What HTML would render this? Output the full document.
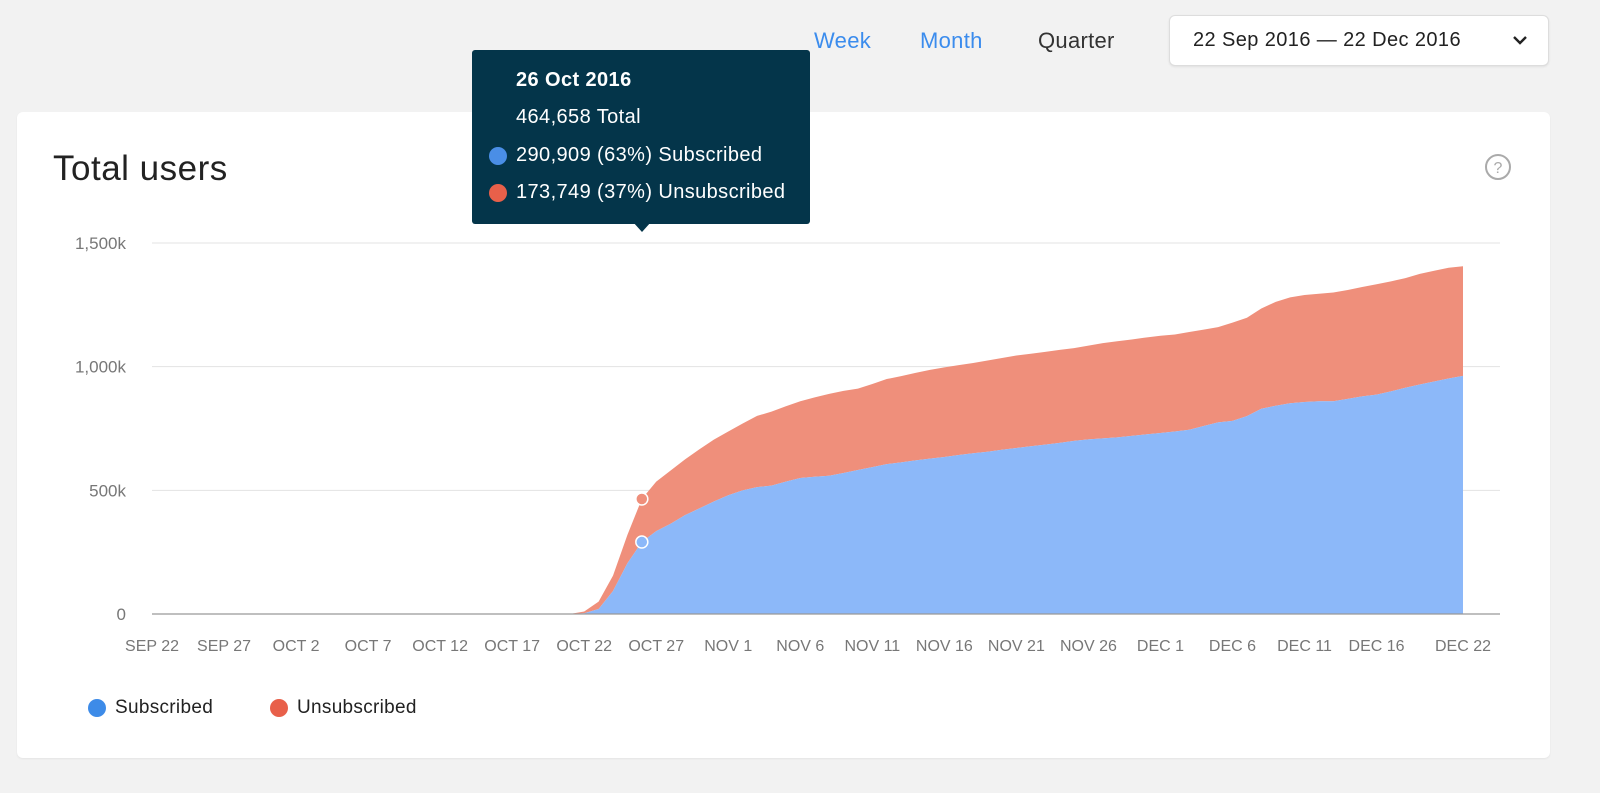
<!DOCTYPE html>
<html><head><meta charset="utf-8">
<style>
body{margin:0;width:1600px;height:793px;background:#f2f2f2;font-family:"Liberation Sans",sans-serif;position:relative;overflow:hidden}
.abs{position:absolute}
.card{left:17px;top:112px;width:1533px;height:646px;background:#fff;border-radius:6px;box-shadow:0 1px 2px rgba(0,0,0,0.06)}
.tab{top:28px;font-size:22px;color:#3b8ced;letter-spacing:0.3px}
.tt{color:#fff;font-size:20px;white-space:nowrap;letter-spacing:0.4px}
</style></head><body>
<div class="abs tab" style="left:814px">Week</div>
<div class="abs tab" style="left:920px">Month</div>
<div class="abs tab" style="left:1038px;color:#333">Quarter</div>
<div class="abs" style="left:1169px;top:15px;width:378px;height:49px;background:#fff;border:1px solid #ddd;border-radius:6px;box-shadow:0 1px 2px rgba(0,0,0,0.08)">
  <div class="abs" style="left:23px;top:13px;font-size:20px;color:#222;letter-spacing:0.4px">22 Sep 2016 — 22 Dec 2016</div>
  <svg class="abs" style="left:342px;top:18px" width="16" height="12"><path d="M2 3 L8 9 L14 3" stroke="#222" stroke-width="2.4" fill="none"/></svg>
</div>
<div class="abs card"></div>
<div class="abs" style="left:53px;top:149px;font-size:35px;color:#222;letter-spacing:0.5px">Total users</div>
<svg class="abs" style="left:1484px;top:153px" width="28" height="28"><circle cx="14" cy="14" r="12" fill="none" stroke="#aaa" stroke-width="2"/><text x="14" y="20" text-anchor="middle" font-size="16" fill="#aaa" font-family="Liberation Sans">?</text></svg>
<svg id="chart" class="abs" style="left:0;top:0" width="1600" height="793"></svg>
<div class="abs" style="left:472px;top:50px;width:338px;height:174px;background:#04354a;border-radius:3px">
  <div class="abs" style="left:161px;top:172px;width:0;height:0;border-left:9px solid transparent;border-right:9px solid transparent;border-top:10px solid #04354a"></div>
  <div class="abs tt" style="left:44px;top:19px;font-weight:bold">26 Oct 2016</div>
  <div class="abs tt" style="left:44px;top:56px">464,658 Total</div>
  <div class="abs" style="left:17px;top:97px;width:18px;height:18px;border-radius:50%;background:#4a8ee6"></div>
  <div class="abs tt" style="left:44px;top:94px">290,909 (63%) Subscribed</div>
  <div class="abs" style="left:17px;top:134px;width:18px;height:18px;border-radius:50%;background:#e8604a"></div>
  <div class="abs tt" style="left:44px;top:131px">173,749 (37%) Unsubscribed</div>
</div>
<div class="abs" style="left:88px;top:699px;width:18px;height:18px;border-radius:50%;background:#3d8be8"></div>
<div class="abs" style="left:115px;top:697px;font-size:19px;color:#222;letter-spacing:0.3px">Subscribed</div>
<div class="abs" style="left:270px;top:699px;width:18px;height:18px;border-radius:50%;background:#e8604a"></div>
<div class="abs" style="left:297px;top:697px;font-size:19px;color:#222;letter-spacing:0.3px">Unsubscribed</div>
<script>
const subscribed=[0,0,0,0,0,0,0,0,0,0,0,0,0,0,0,0,0,0,0,0,0,0,0,0,0,0,0,0,0,0,3,20,93,205,291,335,365,400,427,455,480,500,513,519,535,550,555,559,570,582,594,606,613,621,628,635,643,650,656,664,671,678,685,692,700,706,710,714,720,726,732,738,745,760,775,781,800,830,842,852,857,860,860,870,880,887,900,915,928,940,952,963];
const unsubscribed=[0,0,0,0,0,0,0,0,0,0,0,0,0,0,0,0,0,0,0,0,0,0,0,0,0,0,0,0,0,0,7,30,62,115,174,200,215,225,239,250,258,270,288,299,305,310,321,331,332,329,336,344,349,354,359,362,363,365,369,371,374,374,375,376,375,379,385,389,390,392,393,392,395,390,385,397,398,405,420,428,433,435,440,440,442,446,445,443,447,448,448,443];
const yTicks=[0,500,1000,1500];
const yTickLabels=["0","500k","1,000k","1,500k"];
const xTickDays=[0,5,10,15,20,25,30,35,40,45,50,55,60,65,70,75,80,85,91];
const xTickLabels=["SEP 22","SEP 27","OCT 2","OCT 7","OCT 12","OCT 17","OCT 22","OCT 27","NOV 1","NOV 6","NOV 11","NOV 16","NOV 21","NOV 26","DEC 1","DEC 6","DEC 11","DEC 16","DEC 22"];
const hoverDay=34;
const ns="http://www.w3.org/2000/svg";
const svg=document.getElementById('chart');
const X=d=>152+d*(1463-152)/91;
const Y=v=>614-v*(614-243)/1500;
function mk(tag,attrs,parent){const e=document.createElementNS(ns,tag);for(const k in attrs)e.setAttribute(k,attrs[k]);(parent||svg).appendChild(e);return e;}
yTicks.forEach((t,i)=>{
  if(t>0){const g=mk('line',{x1:152,x2:1500,y1:Y(t),y2:Y(t),stroke:'#e3e3e3','stroke-width':1});
  
  }
  const l=mk('text',{x:126,y:Y(t)+6,'text-anchor':'end','font-size':17,fill:'#777','font-family':'Liberation Sans'});
  l.textContent=yTickLabels[i];
  
  
});
const tot=subscribed.map((s,i)=>s+unsubscribed[i]);
let p='M'+X(0)+','+Y(0);
tot.forEach((v,i)=>p+=' L'+X(i)+','+Y(v));
for(let i=subscribed.length-1;i>=0;i--)p+=' L'+X(i)+','+Y(subscribed[i]);
const ua=mk('path',{d:p+'Z',fill:'#ef8f7b'});


let q='M'+X(0)+','+Y(0);
subscribed.forEach((v,i)=>q+=' L'+X(i)+','+Y(v));
q+=' L'+X(subscribed.length-1)+','+Y(0)+'Z';
const sa=mk('path',{d:q,fill:'#8cb8f9'});


const base=mk('line',{x1:152,x2:1500,y1:Y(0),y2:Y(0),stroke:'#999','stroke-width':1.2});


xTickDays.forEach((d,i)=>{
  const t=mk('text',{x:X(d),y:651,'text-anchor':'middle','font-size':16,fill:'#777','font-family':'Liberation Sans'});
  t.textContent=xTickLabels[i];
  
  
});
const m1=mk('circle',{cx:X(hoverDay),cy:Y(tot[hoverDay]),r:6,fill:'#ef8f7b',stroke:'#fff','stroke-width':1.5});


const m2=mk('circle',{cx:X(hoverDay),cy:Y(subscribed[hoverDay]),r:6,fill:'#8cb8f9',stroke:'#fff','stroke-width':1.5});


</script>
</body></html>
